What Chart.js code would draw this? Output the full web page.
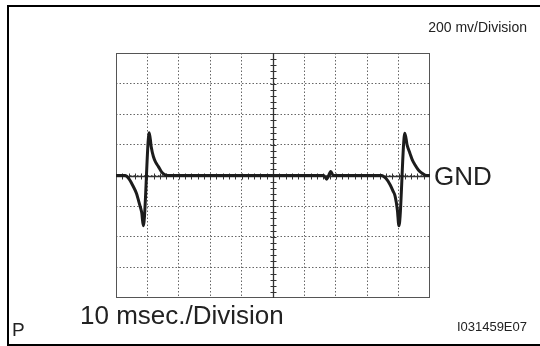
<!DOCTYPE html>
<html lang="en">
<head>
    <meta charset="UTF-8">
    <title>Oscilloscope Waveform</title>
    <script src="https://cdn.jsdelivr.net/npm/chart.js"></script>
    <style>
        body { margin: 0; background: #fff; overflow: hidden; }
        #wrap { position: relative; width: 540px; height: 346px; overflow: hidden; font-family: "Liberation Sans", Arial, sans-serif; color: #222; }
        #frame { position: absolute; left: 7px; top: 5px; width: 560px; height: 337px; border-top: 2px solid #000; border-left: 2px solid #000; border-bottom: 2px solid #000; }
        canvas { position: absolute; left: 0; top: 0; }
        .lbl { position: absolute; line-height: 1; white-space: nowrap; }
    </style>
</head>
<body>
<div id="wrap">
    <div id="frame"></div>
    <canvas id="scope" width="540" height="346"></canvas>
    <div class="lbl" style="right:13px; top:20px; font-size:14px;">200 mv/Division</div>
    <div class="lbl" style="left:434px; top:163px; font-size:26px;">GND</div>
    <div class="lbl" style="left:80px; top:302px; font-size:26px;">10 msec./Division</div>
    <div class="lbl" style="left:12px; top:320px; font-size:19px;">P</div>
    <div class="lbl" style="right:13px; top:320px; font-size:13px;">I031459E07</div>
</div>

<script>
    // time in msec (10 msec per division), voltage in mV (200 mV per division)
    var timeMs = [0, 2.9, 4.2, 5.5, 6.5, 7.1, 7.8, 8.2, 8.7, 10.6, 11.2, 11.9, 12.7, 13.5, 14.5, 15.6, 16.5,
                  66.2, 67.1, 68.4, 69.2,
                  84.6, 86, 87.3, 88.2, 88.9, 89.6, 90.1, 92, 92.7, 93.6, 94.4, 95.2, 96.3, 97.4, 98.5, 100];
    var voltMv = [0, 0, -24, -72, -116, -158, -210, -244, -328, 280, 190, 124, 84, 58, 24, 4, 0,
                  0, -24, 26, 0,
                  0, -20, -60, -100, -136, -224, -328, 276, 200, 146, 100, 70, 36, 16, 2, 0];

    var points = timeMs.map(function(t, i) { return { x: t, y: voltMv[i] }; });

    // frame + center cross with minor ticks, like a scope graticule
    var graticule = {
        id: 'graticule',
        beforeDatasetsDraw: function(chart) {
            var ctx = chart.ctx, a = chart.chartArea;
            var xs = chart.scales.x, ys = chart.scales.y;
            ctx.save();
            ctx.strokeStyle = '#555';
            ctx.lineWidth = 1;
            ctx.strokeRect(a.left + 0.5, a.top + 0.5, a.right - a.left - 1, a.bottom - a.top - 1);

            var cx = Math.round(xs.getPixelForValue(50)) + 0.5;
            var cy = Math.round(ys.getPixelForValue(0)) + 0.5;
            ctx.strokeStyle = '#333';
            ctx.lineWidth = 1.3;
            ctx.beginPath();
            ctx.moveTo(cx, a.top); ctx.lineTo(cx, a.bottom);
            ctx.moveTo(a.left, cy); ctx.lineTo(a.right, cy);
            ctx.stroke();

            ctx.lineWidth = 1;
            ctx.beginPath();
            for (var t = 2; t < 100; t += 2) {
                var px = Math.round(xs.getPixelForValue(t)) + 0.5;
                ctx.moveTo(px, cy - 3); ctx.lineTo(px, cy + 3);
            }
            for (var v = -760; v < 800; v += 40) {
                var py = Math.round(ys.getPixelForValue(v)) + 0.5;
                ctx.moveTo(cx - 3, py); ctx.lineTo(cx + 3, py);
            }
            ctx.stroke();
            ctx.restore();
        }
    };

    var ctx = document.getElementById('scope').getContext('2d');
    var scopeChart = new Chart(ctx, {
        type: 'line',
        data: {
            datasets: [{
                data: points,
                borderColor: '#1c1c1c',
                borderWidth: 3,
                pointRadius: 0,
                cubicInterpolationMode: 'monotone',
                fill: false
            }]
        },
        options: {
            responsive: false,
            animation: false,
            layout: { padding: { left: 116, right: 110, top: 53, bottom: 48 } },
            plugins: { legend: { display: false }, tooltip: { enabled: false } },
            scales: {
                x: {
                    type: 'linear', min: 0, max: 100,
                    ticks: { display: false, stepSize: 10 },
                    grid: {
                        drawTicks: false,
                        color: function(c) { return (c.tick && (c.tick.value === 0 || c.tick.value === 100)) ? 'rgba(0,0,0,0)' : '#666'; }
                    },
                    border: { display: false, dash: [1.5, 2] }
                },
                y: {
                    type: 'linear', min: -800, max: 800,
                    ticks: { display: false, stepSize: 200 },
                    grid: {
                        drawTicks: false,
                        color: function(c) { return (c.tick && (c.tick.value === -800 || c.tick.value === 800)) ? 'rgba(0,0,0,0)' : '#666'; }
                    },
                    border: { display: false, dash: [1.5, 2] }
                }
            }
        },
        plugins: [graticule]
    });
</script>
</body>
</html>
